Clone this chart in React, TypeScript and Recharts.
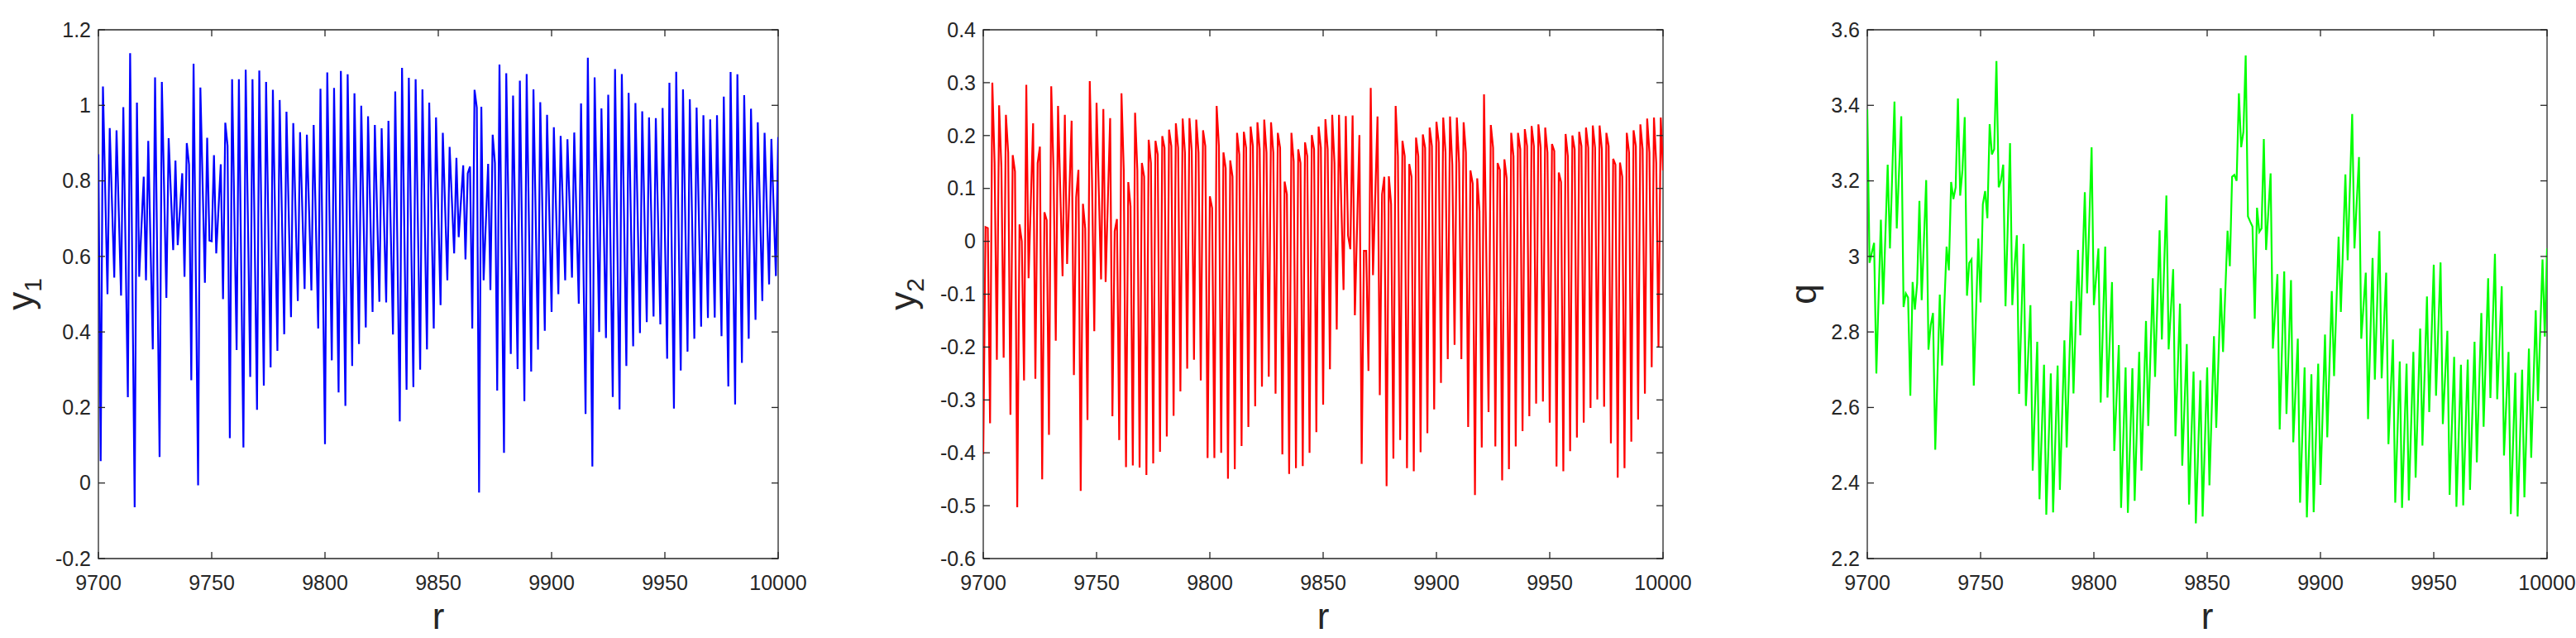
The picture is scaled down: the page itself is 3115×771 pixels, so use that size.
import React from 'react';
import { LineChart, Line, XAxis, YAxis, ReferenceArea } from 'recharts';

const xTicks = [9700, 9750, 9800, 9850, 9900, 9950, 10000];
const y1Ticks = [-0.2, 0, 0.2, 0.4, 0.6, 0.8, 1, 1.2];
const y2Ticks = [-0.6, -0.5, -0.4, -0.3, -0.2, -0.1, 0, 0.1, 0.2, 0.3, 0.4];
const qTicks = [2.2, 2.4, 2.6, 2.8, 3, 3.2, 3.4, 3.6];

// [r, y1] turning points
const y1Points: [number, number][] = [
  [9700, 0.87], [9701, 0.058], [9702, 1.05], [9704, 0.5], [9705, 0.94], [9707, 0.544], [9708, 0.934], [9710, 0.496],
  [9711, 0.995], [9713, 0.227], [9714, 1.138], [9716, -0.064], [9717, 1.007], [9718, 0.546], [9720, 0.811], [9721, 0.537],
  [9722, 0.906], [9724, 0.354], [9725, 1.074], [9727, 0.069], [9728, 1.062], [9730, 0.49], [9731, 0.913], [9733, 0.617],
  [9734, 0.854], [9735, 0.63], [9737, 0.82], [9738, 0.546], [9739, 0.9], [9740, 0.843], [9741, 0.272], [9742, 1.11],
  [9744, -0.006], [9745, 1.047], [9747, 0.53], [9748, 0.914], [9749, 0.642], [9750, 0.64], [9751, 0.868], [9752, 0.608],
  [9754, 0.844], [9755, 0.487], [9756, 0.954], [9757, 0.893], [9758, 0.119], [9759, 1.069], [9761, 0.352], [9762, 1.069],
  [9764, 0.094], [9765, 1.094], [9767, 0.281], [9768, 1.069], [9770, 0.194], [9771, 1.092], [9773, 0.258], [9774, 1.062],
  [9776, 0.306], [9777, 1.041], [9779, 0.35], [9780, 1.014], [9782, 0.394], [9783, 0.983], [9785, 0.439], [9786, 0.953],
  [9788, 0.482], [9789, 0.929], [9791, 0.514], [9792, 0.922], [9794, 0.51], [9795, 0.948], [9797, 0.409], [9798, 1.044],
  [9800, 0.103], [9801, 1.087], [9803, 0.325], [9804, 1.046], [9806, 0.24], [9807, 1.091], [9809, 0.204], [9810, 1.082],
  [9812, 0.31], [9813, 1.032], [9815, 0.368], [9816, 0.999], [9818, 0.412], [9819, 0.971], [9821, 0.453], [9822, 0.948],
  [9824, 0.48], [9825, 0.939], [9827, 0.478], [9828, 0.959], [9830, 0.393], [9831, 1.037], [9833, 0.163], [9834, 1.099],
  [9836, 0.247], [9837, 1.073], [9839, 0.254], [9840, 1.069], [9842, 0.3], [9843, 1.042], [9845, 0.354], [9846, 1.007],
  [9848, 0.409], [9849, 0.968], [9851, 0.471], [9852, 0.927], [9854, 0.537], [9855, 0.89], [9857, 0.608], [9858, 0.861],
  [9859, 0.651], [9861, 0.841], [9862, 0.592], [9863, 0.82], [9864, 0.838], [9865, 0.409], [9866, 1.041], [9867, 0.994],
  [9868, -0.025], [9869, 0.996], [9870, 0.537], [9872, 0.845], [9873, 0.511], [9874, 0.922], [9875, 0.847], [9876, 0.245],
  [9877, 1.108], [9879, 0.08], [9880, 1.085], [9882, 0.342], [9883, 1.026], [9885, 0.302], [9886, 1.065], [9888, 0.217],
  [9889, 1.083], [9891, 0.295], [9892, 1.042], [9894, 0.353], [9895, 1.008], [9897, 0.403], [9898, 0.975], [9900, 0.453],
  [9901, 0.942], [9903, 0.5], [9904, 0.919], [9906, 0.537], [9907, 0.91], [9909, 0.544], [9910, 0.928], [9912, 0.475],
  [9913, 1.005], [9915, 0.183], [9916, 1.126], [9918, 0.044], [9919, 1.074], [9921, 0.4], [9922, 0.992], [9924, 0.384],
  [9925, 1.028], [9927, 0.228], [9928, 1.096], [9930, 0.195], [9931, 1.083], [9933, 0.31], [9934, 1.033], [9936, 0.362],
  [9937, 1.006], [9939, 0.397], [9940, 0.984], [9942, 0.426], [9943, 0.968], [9945, 0.441], [9946, 0.966], [9948, 0.42],
  [9949, 0.993], [9951, 0.329], [9952, 1.06], [9954, 0.197], [9955, 1.089], [9957, 0.298], [9958, 1.042], [9960, 0.348],
  [9961, 1.016], [9963, 0.382], [9964, 0.994], [9966, 0.414], [9967, 0.974], [9969, 0.437], [9970, 0.963], [9972, 0.438],
  [9973, 0.974], [9975, 0.389], [9976, 1.023], [9978, 0.256], [9979, 1.088], [9981, 0.208], [9982, 1.082], [9984, 0.318],
  [9985, 1.027], [9987, 0.382], [9988, 0.991], [9990, 0.432], [9991, 0.955], [9993, 0.482], [9994, 0.927], [9996, 0.526],
  [9997, 0.911], [9999, 0.548], [10000, 0.916],
];

// [r, y2]
const y2Points: [number, number][] = [
  [9700, -0.403], [9701, 0.027], [9702, 0.025], [9703, -0.344], [9704, 0.3], [9705, 0.148], [9706, -0.224], [9707, 0.257],
  [9708, 0.14], [9709, -0.22], [9710, 0.239], [9711, 0.168], [9712, -0.328], [9713, 0.163], [9714, 0.132], [9715, -0.503],
  [9716, 0.032], [9717, 0.0], [9718, -0.263], [9719, 0.296], [9720, -0.07], [9722, 0.223], [9723, -0.26], [9724, 0.148],
  [9725, 0.179], [9726, -0.45], [9727, 0.055], [9728, 0.04], [9729, -0.366], [9730, 0.293], [9731, 0.135], [9732, -0.188],
  [9733, 0.256], [9735, -0.066], [9736, 0.239], [9737, -0.043], [9739, 0.228], [9740, -0.253], [9741, 0.083], [9742, 0.135],
  [9743, -0.472], [9744, 0.071], [9745, 0.024], [9746, -0.338], [9747, 0.303], [9748, 0.115], [9749, -0.17], [9750, 0.262],
  [9752, -0.072], [9753, 0.25], [9754, -0.077], [9756, 0.233], [9757, -0.331], [9758, 0.019], [9759, 0.042], [9760, -0.376],
  [9761, 0.28], [9762, 0.135], [9763, -0.427], [9764, 0.112], [9765, 0.066], [9766, -0.424], [9767, 0.243], [9768, 0.135],
  [9769, -0.428], [9770, 0.148], [9771, 0.122], [9772, -0.442], [9773, 0.192], [9774, 0.148], [9775, -0.42], [9776, 0.19],
  [9777, 0.164], [9778, -0.398], [9779, 0.199], [9780, 0.177], [9781, -0.369], [9782, 0.211], [9783, 0.18], [9784, -0.33],
  [9785, 0.223], [9786, 0.177], [9787, -0.284], [9788, 0.232], [9789, 0.168], [9790, -0.241], [9791, 0.233], [9792, 0.171],
  [9793, -0.224], [9794, 0.23], [9795, 0.168], [9796, -0.263], [9797, 0.21], [9798, 0.18], [9799, -0.41], [9800, 0.085],
  [9801, 0.063], [9802, -0.41], [9803, 0.256], [9804, 0.18], [9805, -0.4], [9806, 0.168], [9807, 0.138], [9808, -0.449],
  [9809, 0.153], [9810, 0.122], [9811, -0.431], [9812, 0.205], [9813, 0.164], [9814, -0.387], [9815, 0.207], [9816, 0.177],
  [9817, -0.351], [9818, 0.217], [9819, 0.18], [9820, -0.312], [9821, 0.225], [9822, 0.174], [9823, -0.275], [9824, 0.23],
  [9825, 0.168], [9826, -0.256], [9827, 0.225], [9828, 0.168], [9829, -0.288], [9830, 0.205], [9831, 0.177], [9832, -0.403],
  [9833, 0.113], [9834, 0.089], [9835, -0.44], [9836, 0.205], [9837, 0.151], [9838, -0.429], [9839, 0.174], [9840, 0.148],
  [9841, -0.425], [9842, 0.187], [9843, 0.161], [9844, -0.4], [9845, 0.201], [9846, 0.174], [9847, -0.361], [9848, 0.217],
  [9849, 0.177], [9850, -0.309], [9851, 0.231], [9852, 0.174], [9853, -0.242], [9854, 0.239], [9855, 0.148], [9856, -0.167],
  [9857, 0.239], [9859, -0.092], [9860, 0.237], [9861, 0.011], [9862, -0.015], [9863, 0.238], [9864, -0.14], [9866, 0.201],
  [9867, -0.421], [9868, -0.018], [9869, -0.018], [9870, -0.245], [9871, 0.29], [9872, -0.064], [9874, 0.236], [9875, -0.291],
  [9876, 0.089], [9877, 0.122], [9878, -0.463], [9879, 0.123], [9880, 0.07], [9881, -0.411], [9882, 0.256], [9883, 0.161],
  [9884, -0.376], [9885, 0.19], [9886, 0.161], [9887, -0.429], [9888, 0.146], [9889, 0.122], [9890, -0.435], [9891, 0.196],
  [9892, 0.161], [9893, -0.399], [9894, 0.202], [9895, 0.177], [9896, -0.363], [9897, 0.215], [9898, 0.18], [9899, -0.318],
  [9900, 0.226], [9901, 0.187], [9902, -0.268], [9903, 0.234], [9904, 0.168], [9905, -0.223], [9906, 0.236], [9907, 0.145],
  [9908, -0.196], [9909, 0.234], [9910, 0.148], [9911, -0.223], [9912, 0.225], [9913, 0.168], [9914, -0.351], [9915, 0.134],
  [9916, 0.109], [9917, -0.48], [9918, 0.119], [9919, 0.057], [9920, -0.39], [9921, 0.278], [9923, -0.323], [9924, 0.22],
  [9925, 0.177], [9926, -0.388], [9927, 0.148], [9928, 0.135], [9929, -0.452], [9930, 0.155], [9931, 0.119], [9932, -0.431],
  [9933, 0.205], [9934, 0.161], [9935, -0.388], [9936, 0.205], [9937, 0.174], [9938, -0.359], [9939, 0.212], [9940, 0.18],
  [9941, -0.331], [9942, 0.218], [9943, 0.18], [9944, -0.307], [9945, 0.221], [9946, 0.177], [9947, -0.303], [9948, 0.215],
  [9949, 0.168], [9950, -0.343], [9951, 0.184], [9952, 0.171], [9953, -0.426], [9954, 0.13], [9955, 0.112], [9956, -0.435],
  [9957, 0.203], [9958, 0.161], [9959, -0.397], [9960, 0.2], [9961, 0.174], [9962, -0.371], [9963, 0.207], [9964, 0.18],
  [9965, -0.343], [9966, 0.215], [9967, 0.177], [9968, -0.315], [9969, 0.219], [9970, 0.177], [9971, -0.299], [9972, 0.219],
  [9973, 0.174], [9974, -0.313], [9975, 0.205], [9976, 0.18], [9977, -0.382], [9978, 0.156], [9979, 0.145], [9980, -0.447],
  [9981, 0.149], [9982, 0.122], [9983, -0.429], [9984, 0.205], [9985, 0.168], [9986, -0.379], [9987, 0.21], [9988, 0.18],
  [9989, -0.337], [9990, 0.221], [9991, 0.174], [9992, -0.288], [9993, 0.232], [9994, 0.168], [9995, -0.238], [9996, 0.234],
  [9997, 0.148], [9998, -0.201], [9999, 0.234], [10000, 0.134],
];

// [r, q]
const qPoints: [number, number][] = [
  [9700, 3.389], [9701, 2.983], [9702, 3.01], [9703, 3.036], [9704, 2.69], [9706, 3.097], [9707, 2.873], [9709, 3.243],
  [9710, 3.021], [9712, 3.41], [9713, 3.074], [9715, 3.371], [9716, 2.866], [9717, 2.902], [9718, 2.891], [9719, 2.631],
  [9720, 2.932], [9721, 2.859], [9722, 2.928], [9723, 3.147], [9724, 2.884], [9726, 3.202], [9727, 2.753], [9728, 2.818],
  [9729, 2.85], [9730, 2.488], [9732, 2.899], [9733, 2.711], [9735, 3.026], [9736, 2.963], [9737, 3.197], [9738, 3.152],
  [9739, 3.183], [9740, 3.418], [9741, 3.161], [9742, 3.229], [9743, 3.369], [9744, 2.896], [9745, 2.983], [9746, 2.992],
  [9747, 2.658], [9749, 3.047], [9750, 2.878], [9751, 3.138], [9752, 3.173], [9753, 3.101], [9754, 3.35], [9755, 3.27],
  [9756, 3.284], [9757, 3.517], [9758, 3.183], [9759, 3.202], [9760, 3.243], [9761, 2.868], [9763, 3.3], [9764, 2.871],
  [9765, 2.974], [9766, 3.056], [9767, 2.636], [9769, 3.033], [9770, 2.604], [9772, 2.871], [9773, 2.433], [9775, 2.774],
  [9776, 2.357], [9778, 2.713], [9779, 2.316], [9781, 2.69], [9782, 2.322], [9784, 2.711], [9785, 2.382], [9787, 2.778],
  [9788, 2.494], [9790, 2.882], [9791, 2.637], [9793, 3.017], [9794, 2.791], [9796, 3.17], [9797, 2.902], [9799, 3.289],
  [9800, 2.871], [9802, 3.021], [9803, 2.613], [9805, 3.026], [9806, 2.626], [9808, 2.932], [9809, 2.485], [9811, 2.765],
  [9812, 2.334], [9814, 2.706], [9815, 2.321], [9817, 2.704], [9818, 2.353], [9820, 2.747], [9821, 2.433], [9823, 2.829],
  [9824, 2.551], [9826, 2.942], [9827, 2.681], [9829, 3.069], [9830, 2.78], [9832, 3.161], [9833, 2.754], [9835, 2.966],
  [9836, 2.524], [9838, 2.875], [9839, 2.446], [9841, 2.768], [9842, 2.343], [9844, 2.695], [9845, 2.293], [9847, 2.672],
  [9848, 2.311], [9850, 2.706], [9851, 2.394], [9853, 2.789], [9854, 2.546], [9856, 2.916], [9857, 2.747], [9859, 3.068],
  [9860, 2.974], [9861, 3.211], [9862, 3.216], [9863, 3.2], [9864, 3.432], [9865, 3.289], [9866, 3.33], [9867, 3.532],
  [9868, 3.106], [9869, 3.092], [9870, 3.079], [9871, 2.835], [9872, 3.129], [9873, 3.065], [9874, 3.074], [9875, 3.311],
  [9876, 3.017], [9878, 3.22], [9879, 2.756], [9881, 2.953], [9882, 2.542], [9884, 2.96], [9885, 2.583], [9887, 2.937],
  [9888, 2.508], [9890, 2.782], [9891, 2.348], [9893, 2.706], [9894, 2.309], [9896, 2.688], [9897, 2.323], [9899, 2.716],
  [9900, 2.395], [9902, 2.793], [9903, 2.521], [9905, 2.908], [9906, 2.683], [9908, 3.052], [9909, 2.853], [9911, 3.217],
  [9912, 2.99], [9914, 3.377], [9915, 3.021], [9917, 3.263], [9918, 2.782], [9920, 2.957], [9921, 2.569], [9923, 2.996],
  [9924, 2.674], [9926, 3.067], [9927, 2.677], [9929, 2.957], [9930, 2.503], [9932, 2.78], [9933, 2.348], [9935, 2.722],
  [9936, 2.334], [9938, 2.716], [9939, 2.354], [9941, 2.747], [9942, 2.414], [9944, 2.809], [9945, 2.499], [9947, 2.894],
  [9948, 2.588], [9950, 2.978], [9951, 2.631], [9953, 2.984], [9954, 2.556], [9956, 2.803], [9957, 2.369], [9959, 2.734],
  [9960, 2.337], [9962, 2.713], [9963, 2.341], [9965, 2.727], [9966, 2.382], [9968, 2.774], [9969, 2.455], [9971, 2.85],
  [9972, 2.549], [9974, 2.942], [9975, 2.625], [9977, 3.007], [9978, 2.622], [9980, 2.921], [9981, 2.473], [9983, 2.747],
  [9984, 2.318], [9986, 2.692], [9987, 2.311], [9989, 2.7], [9990, 2.362], [9992, 2.756], [9993, 2.467], [9995, 2.857],
  [9996, 2.617], [9998, 2.992], [9999, 2.788], [10000, 3.021],
];

const CW = 1040;
const CH = 771;
const PL = 150; // plot box inside each chart
const PR = 972;
const PT = 36;
const PB = 675;
const INK = '#262626';
const FONT = '"Liberation Sans", Arial, Helvetica, sans-serif';
const TICK_LEN = 8;

// matlab style: ticks point inwards, on both sides of the box
const XTick = (props: any) => {
  const { x, payload } = props;
  return (
    <g>
      <line x1={x} x2={x} y1={PB} y2={PB - TICK_LEN} stroke={INK} strokeWidth={1.3} />
      <line x1={x} x2={x} y1={PT} y2={PT + TICK_LEN} stroke={INK} strokeWidth={1.3} />
      <text x={x} y={PB + 38} textAnchor="middle" fill={INK} fontSize={25} fontFamily={FONT}>
        {payload.value}
      </text>
    </g>
  );
};

const YTick = (props: any) => {
  const { y, payload } = props;
  return (
    <g>
      <line x1={PL} x2={PL + TICK_LEN} y1={y} y2={y} stroke={INK} strokeWidth={1.3} />
      <line x1={PR} x2={PR - TICK_LEN} y1={y} y2={y} stroke={INK} strokeWidth={1.3} />
      <text x={PL - 9} y={y} dy="0.35em" textAnchor="end" fill={INK} fontSize={25} fontFamily={FONT}>
        {payload.value}
      </text>
    </g>
  );
};

const XTitle = () => (
  <text x={(PL + PR) / 2} y={760} textAnchor="middle" fill={INK} fontSize={44} fontFamily={FONT}>
    r
  </text>
);

const YTitle = ({ gap, main, sub }: any) => {
  const cx = PL - gap;
  const cy = (PT + PB) / 2;
  return (
    <text
      x={cx}
      y={cy}
      transform={`rotate(-90 ${cx} ${cy})`}
      textAnchor="middle"
      fill={INK}
      fontSize={44}
      fontFamily={FONT}
    >
      {main}
      {sub ? (
        <tspan fontSize={30} dy={10}>
          {sub}
        </tspan>
      ) : null}
    </text>
  );
};

type PanelProps = {
  left: number;
  points: [number, number][];
  domain: [number, number];
  ticks: number[];
  color: string;
  main: string;
  sub?: string;
  gap: number;
};

const Panel = ({ left, points, domain, ticks, color, main, sub, gap }: PanelProps) => {
  const data = points.map(([r, v]) => ({ r, v }));
  return (
    <div style={{ position: 'absolute', left, top: 0 }}>
      <LineChart width={CW} height={CH} data={data} margin={{ top: PT, right: CW - PR, bottom: 56, left: 90 }}>
        <XAxis
          dataKey="r"
          type="number"
          domain={[9700, 10000]}
          ticks={xTicks}
          interval={0}
          height={40}
          tickLine={false}
          axisLine={false}
          tick={XTick}
          label={<XTitle />}
          allowDataOverflow
        />
        <YAxis
          type="number"
          domain={domain}
          ticks={ticks}
          interval={0}
          width={60}
          tickLine={false}
          axisLine={false}
          tick={YTick}
          label={<YTitle gap={gap} main={main} sub={sub} />}
          allowDataOverflow
        />
        <ReferenceArea x1={9700} x2={10000} y1={domain[0]} y2={domain[1]} fill="none" stroke={INK} strokeWidth={1.3} />
        <Line
          type="linear"
          dataKey="v"
          stroke={color}
          strokeWidth={2.2}
          dot={false}
          activeDot={false}
          isAnimationActive={false}
        />
      </LineChart>
    </div>
  );
};

const App = () => {
  return (
    <div style={{ position: 'absolute', left: 0, top: 0, width: 3115, height: 771, background: '#fff', overflow: 'hidden' }}>
      <Panel left={119 - PL} points={y1Points} domain={[-0.2, 1.2]} ticks={y1Ticks} color="#0000ff" main="y" sub="1" gap={79} />
      <Panel left={1189 - PL} points={y2Points} domain={[-0.6, 0.4]} ticks={y2Ticks} color="#ff0000" main="y" sub="2" gap={82} />
      <Panel left={2258 - PL} points={qPoints} domain={[2.2, 3.6]} ticks={qTicks} color="#00ff00" main="q" gap={62} />
    </div>
  );
};

export default App;
